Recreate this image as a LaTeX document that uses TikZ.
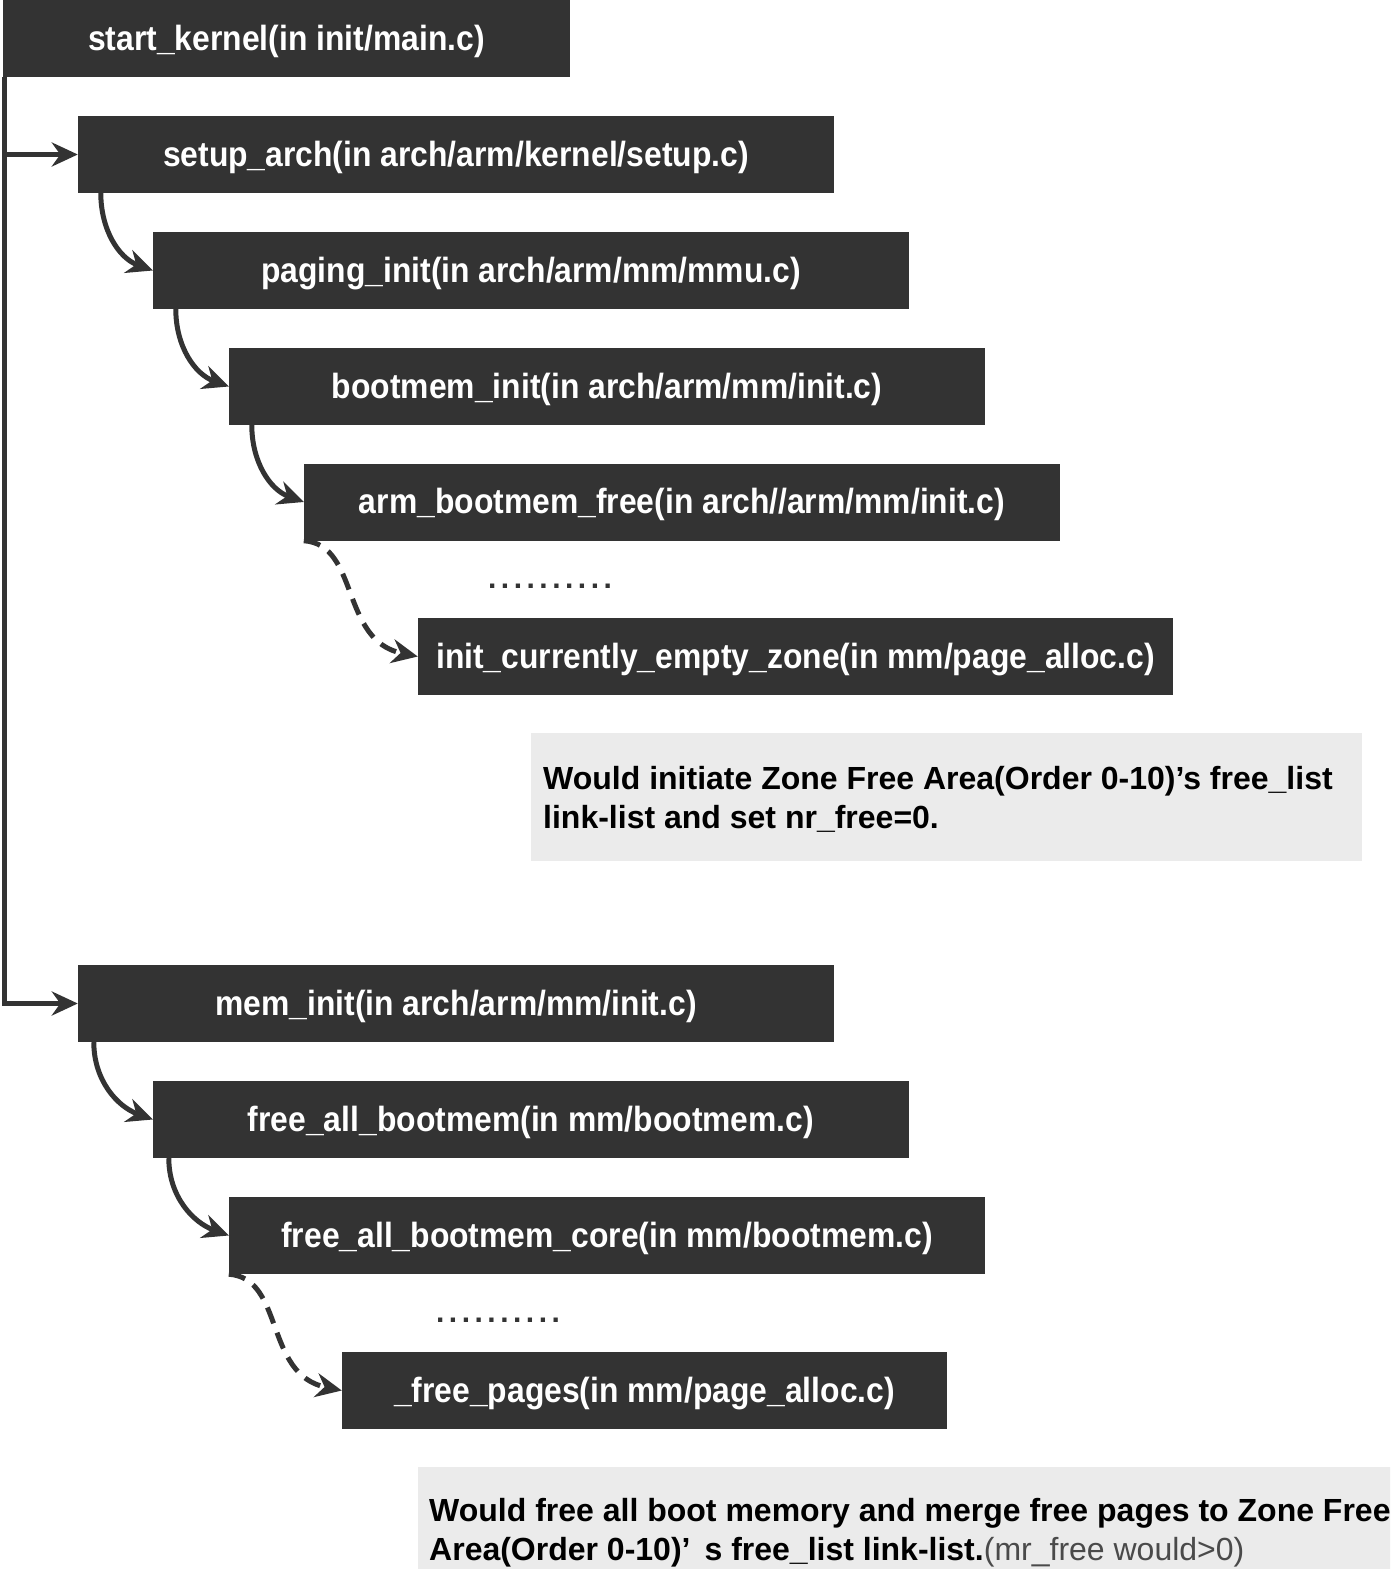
\documentclass[tikz,border=0pt]{standalone}
\usepackage{fontspec}
\setmainfont{Liberation Sans}
\newfontfamily\boxfont{Liberation Sans}[FakeStretch=0.91]
\usetikzlibrary{arrows.meta,calc}
\definecolor{boxgray}{HTML}{333333}
\definecolor{notegray}{HTML}{EBEBEB}
\definecolor{softtext}{HTML}{4A4A4A}
\begin{document}
\begin{tikzpicture}[x=1pt,y=-1pt,
  fbox/.style={fill=boxgray,draw=none,inner sep=0pt,minimum height=77pt,
    text height=30pt,text depth=7pt,
    text=white,font=\boxfont\bfseries\fontsize{35}{40}\selectfont},
  conn/.style={draw=boxgray,line width=5pt,-{Stealth[length=26pt,width=24pt]}},
  dconn/.style={conn,dash pattern=on 17pt off 10pt},
  notetext/.style={inner sep=0pt,anchor=base west,align=left,
    font=\bfseries\fontsize{32}{39}\selectfont},
  dots/.style={inner sep=0pt,font=\bfseries\fontsize{30}{30}\selectfont,text=boxgray}
]
\clip (0,0) rectangle (1390,1569);
\useasboundingbox (0,0) rectangle (1390,1569);
\fill[white] (0,0) rectangle (1390,1569);

% boxes
\node[fbox,minimum width=567pt] (k)  at (286.5,38.5)  {start\_kernel(in init/main.c)};
\node[fbox,minimum width=756pt] (sa) at (456,154.5)   {setup\_arch(in arch/arm/kernel/setup.c)};
\node[fbox,minimum width=756pt] (pi) at (531,270.5)   {paging\_init(in arch/arm/mm/mmu.c)};
\node[fbox,minimum width=756pt] (bi) at (607,386.5)   {bootmem\_init(in arch/arm/mm/init.c)};
\node[fbox,minimum width=756pt] (ab) at (682,502)     {arm\_bootmem\_free(in arch//arm/mm/init.c)};
\node[fbox,minimum width=755pt] (ic) at (795.5,656.5) {init\_currently\_empty\_zone(in mm/page\_alloc.c)};
\node[fbox,minimum width=756pt] (mi) at (456,1003.5)  {mem\_init(in arch/arm/mm/init.c)};
\node[fbox,minimum width=756pt] (fb) at (531,1119.5)  {free\_all\_bootmem(in mm/bootmem.c)};
\node[fbox,minimum width=756pt] (fc) at (607,1235.5)  {free\_all\_bootmem\_core(in mm/bootmem.c)};
\node[fbox,minimum width=605pt] (fp) at (644.5,1390.5){\_free\_pages(in mm/page\_alloc.c)};

% dots
\node[dots] (d1) at (550,586) {.\kern4.5pt.\kern4.5pt.\kern4.5pt.\kern4.5pt.\kern4.5pt.\kern4.5pt.\kern4.5pt.\kern4.5pt.\kern4.5pt.};
\node[dots] (d2) at (498,1320) {.\kern4.5pt.\kern4.5pt.\kern4.5pt.\kern4.5pt.\kern4.5pt.\kern4.5pt.\kern4.5pt.\kern4.5pt.\kern4.5pt.};

% notes
\fill[notegray] (531,733) rectangle (1362,861);
\node[notetext] (n1) at (543,828) {Would initiate Zone Free Area(Order 0-10)’s free\_list\\link-list and set nr\_free=0.};
\fill[notegray] (418,1467) rectangle (1400,1580);
\node[notetext] (n2) at (429,1560) {Would free all boot memory and merge free pages to Zone Free\\Area(Order 0-10)’\hspace{14pt}s free\_list link-list.{\mdseries\color{softtext}(mr\_free would>0)}};

% trunk
\coordinate (trunk) at ([xshift=1.5pt]k.south west);
\draw[conn] (trunk) |- (mi.west);
\draw[conn] (trunk |- sa.west) -- (sa.west);

% solid curved calls
\draw[conn] ([xshift=23pt]sa.south west) to[out=-90,in=160] (pi.west);
\draw[conn] ([xshift=23pt]pi.south west) to[out=-90,in=160] (bi.west);
\draw[conn] ([xshift=23pt]bi.south west) to[out=-90,in=160] (ab.west);
\draw[conn] ([xshift=16pt]mi.south west) to[out=-90,in=160] (fb.west);
\draw[conn] ([xshift=16pt]fb.south west) to[out=-90,in=160] (fc.west);

% dashed calls
\draw[dconn] (ab.south west) .. controls +(56,4) and +(-78,-16) .. (ic.west);
\draw[dconn] (fc.south west) .. controls +(56,4) and +(-78,-16) .. (fp.west);
\end{tikzpicture}
\end{document}
